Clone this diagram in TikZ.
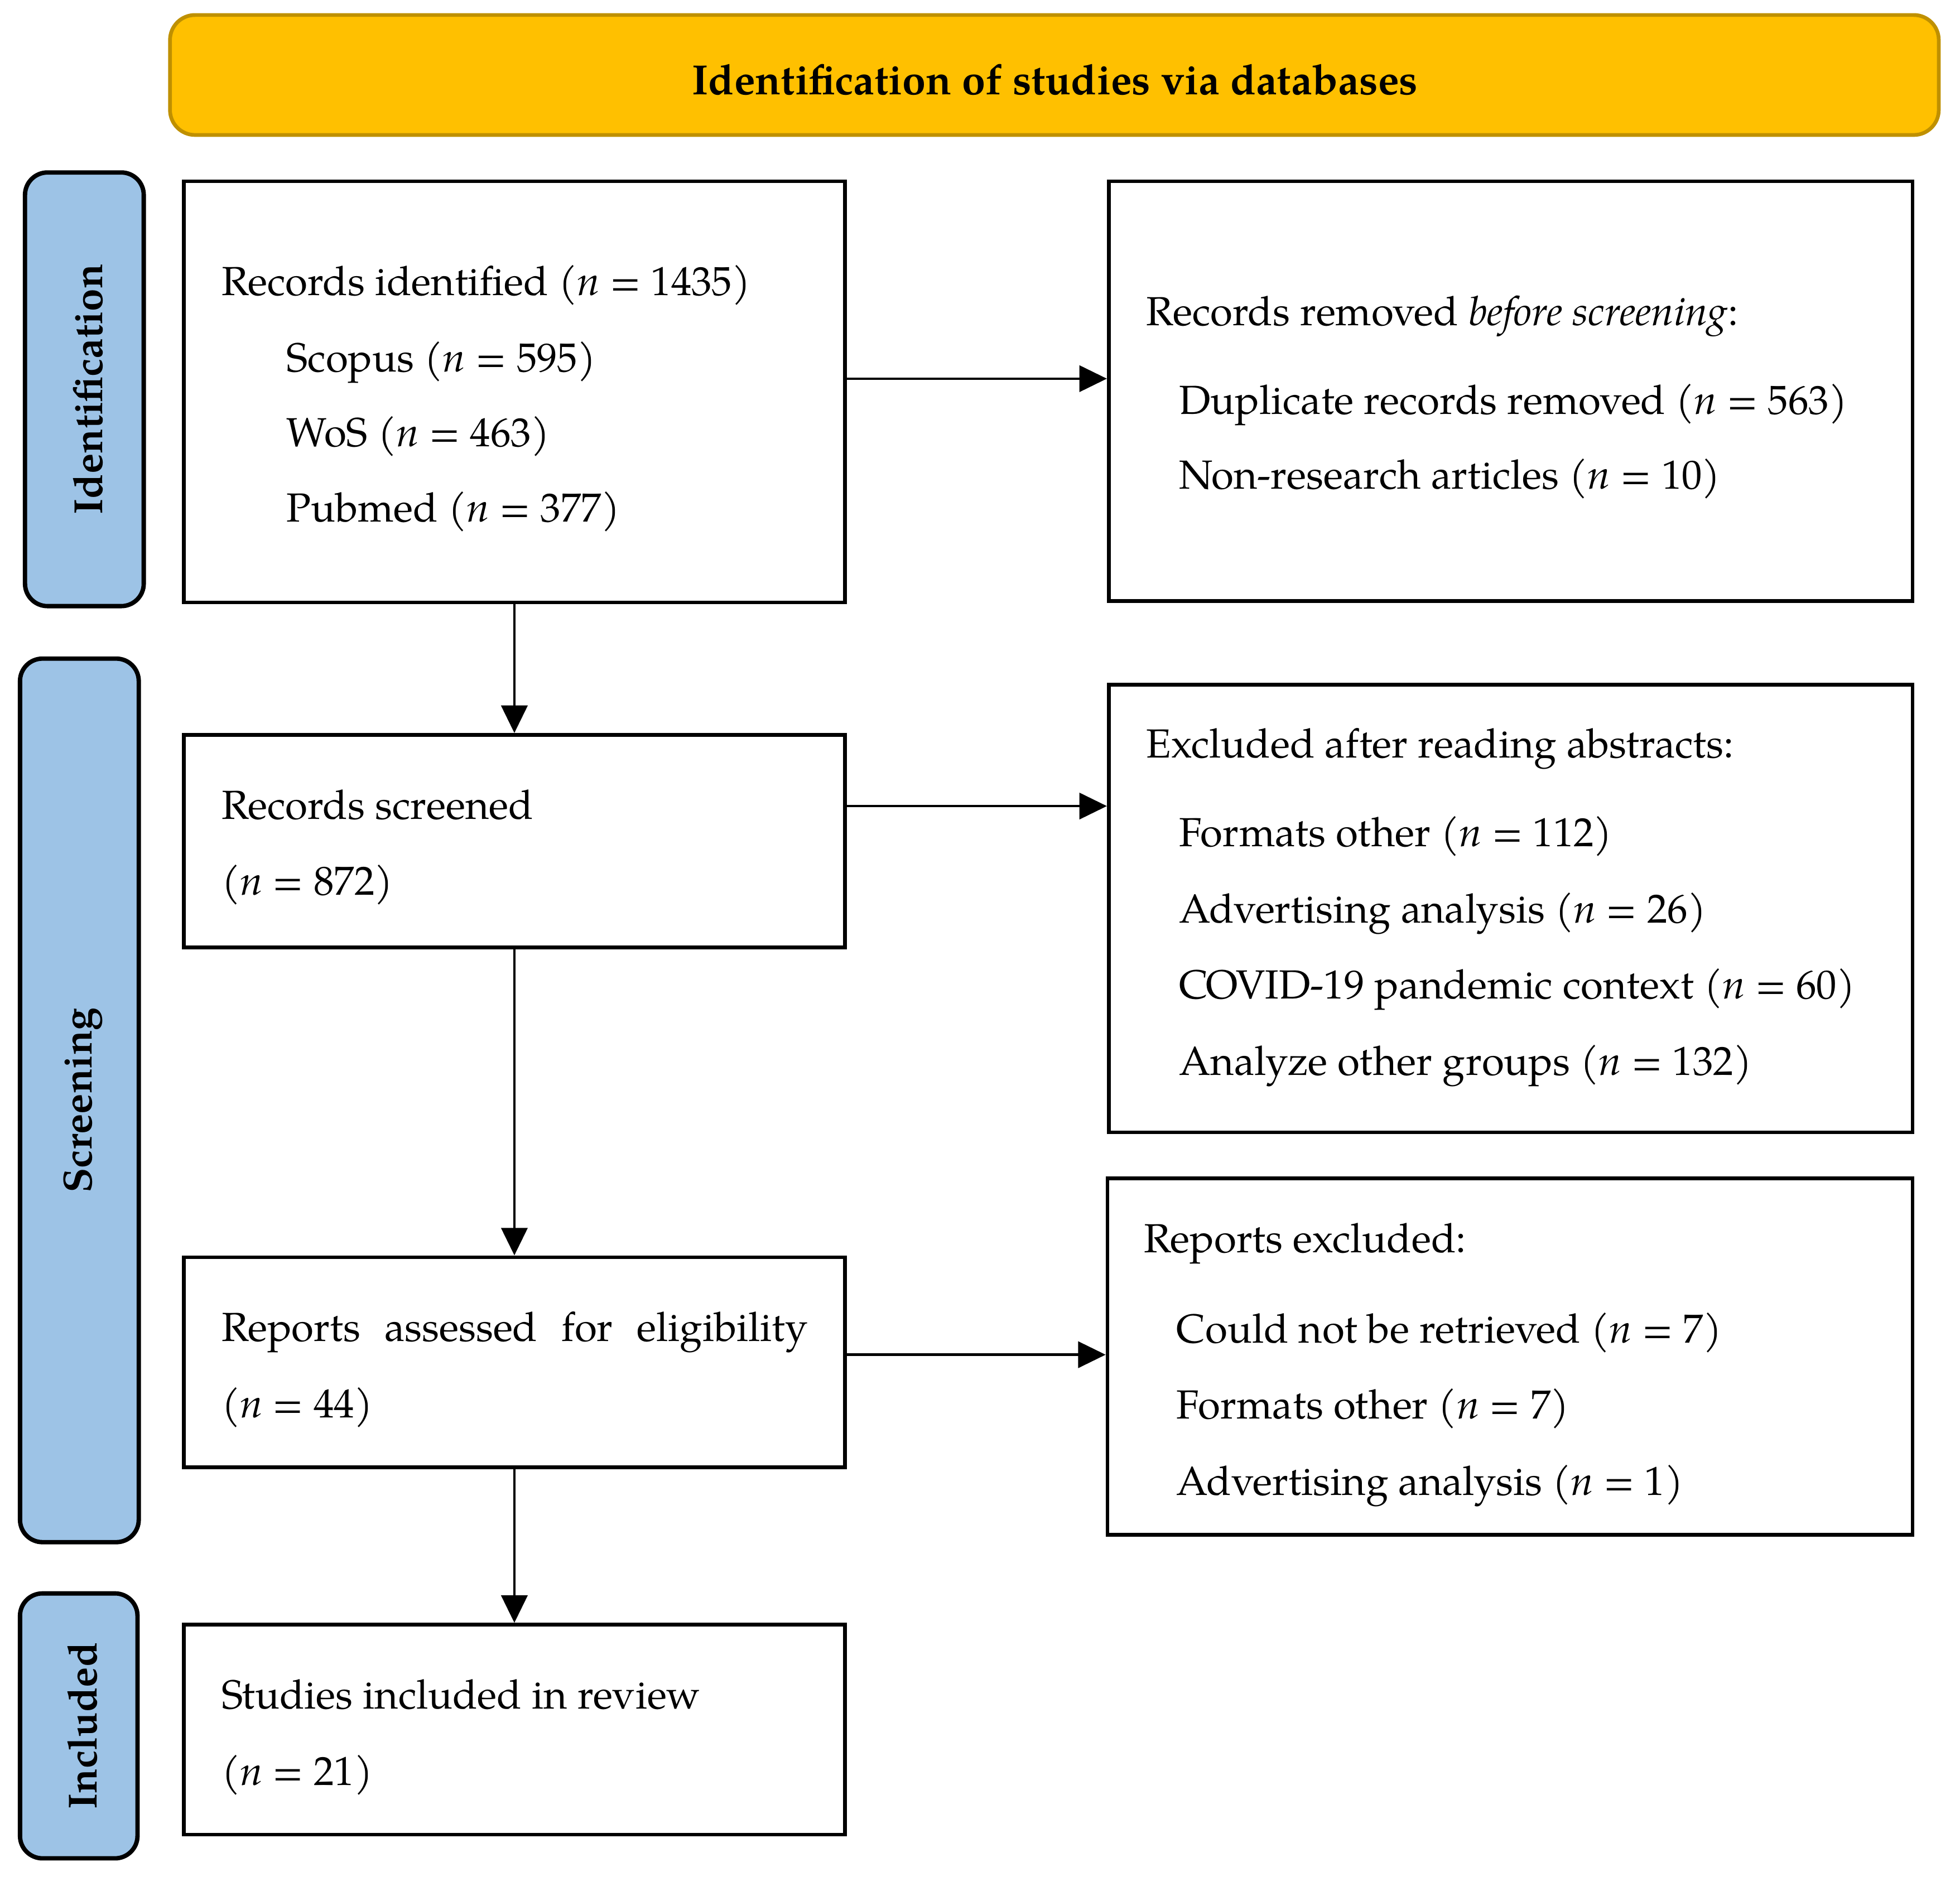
\documentclass[tikz,border=0pt]{standalone}
\usepackage{fontspec}
\setmainfont{TeX Gyre Pagella}
\usetikzlibrary{arrows.meta}
\newcommand\myfs{\fontsize{32.5}{39}\selectfont}
\newcommand\nn{\textit{n}}
\definecolor{banfill}{HTML}{FFC000}
\definecolor{banline}{HTML}{BF9000}
\definecolor{sidefill}{HTML}{9DC3E6}
\tikzset{
  box/.style={draw=black, line width=3pt, fill=white, inner sep=0pt},
  txt/.style={anchor=mid west, inner sep=0pt, font=\myfs, yshift=-8pt},
  side/.style={draw=black, line width=3.5pt, fill=sidefill, rounded corners=18pt, inner sep=0pt},
  sidetxt/.style={rotate=90, inner sep=0pt, font=\myfs\bfseries},
  arr/.style={line width=2pt, -{Triangle[length=22pt,width=21pt]}}
}
\begin{document}
\begin{tikzpicture}[x=1pt,y=-1pt]
\useasboundingbox (0,0) rectangle (1568,1501.5);
% banner
\node[draw=banline, line width=3pt, fill=banfill, rounded corners=20pt, minimum width=1415pt, minimum height=96pt, inner sep=0pt] (ban) at (843.5,60) {};
\node[font=\fontsize{33.7}{40}\selectfont\bfseries, inner sep=0pt] (bantxt) at (844,64) {Identification of studies via databases};
% side labels
\node[side, minimum width=95pt, minimum height=347pt] (s1) at (67.5,311.5) {};
\node[sidetxt] (s1t) at ([xshift=3pt]s1.center) {Identification};
\node[side, minimum width=95pt, minimum height=707pt] (s2) at (63.5,880.5) {};
\node[sidetxt] (s2t) at ([xshift=3pt]s2.center) {Screening};
\node[side, minimum width=94pt, minimum height=212pt] (s3) at (63,1381) {};
\node[sidetxt] (s3t) at ([xshift=3pt]s3.center) {Included};
% boxes
\node[box, minimum width=529pt, minimum height=337pt] (A) at (411.5,313.5) {};
\node[box, minimum width=643pt, minimum height=336pt] (B) at (1208.5,313) {};
\node[box, minimum width=529pt, minimum height=170pt] (C) at (411.5,673) {};
\node[box, minimum width=643pt, minimum height=358pt] (D) at (1208.5,727) {};
\node[box, minimum width=529pt, minimum height=168pt] (E) at (411.5,1090) {};
\node[box, minimum width=644pt, minimum height=285pt] (F) at (1208,1085.5) {};
\node[box, minimum width=529pt, minimum height=168pt] (G) at (411.5,1384) {};
% texts
\node[txt] (a1) at (177,226) {Records identified (\nn{} = 1435)};
\node[txt] (a2) at (229,287) {Scopus (\nn{} = 595)};
\node[txt] (a3) at (229,347) {WoS (\nn{} = 463)};
\node[txt] (a4) at (229,407) {Pubmed (\nn{} = 377)};
\node[txt] (b1) at (917,250) {Records removed \textit{before screening}:};
\node[txt] (b2) at (943,321) {Duplicate records removed (\nn{} = 563)};
\node[txt] (b3) at (943,381) {Non-research articles (\nn{} = 10)};
\node[txt] (c1) at (177,645) {Records screened};
\node[txt] (c2) at (177,706) {(\nn{} = 872)};
\node[txt] (d1) at (917,596) {Excluded after reading abstracts:};
\node[txt] (d2) at (943,667) {Formats other (\nn{} = 112)};
\node[txt] (d3) at (943,728) {Advertising analysis (\nn{} = 26)};
\node[txt] (d4) at (943,789) {COVID-19 pandemic context (\nn{} = 60)};
\node[txt] (d5) at (943,850) {Analyze other groups (\nn{} = 132)};
\node[txt] (e1) at (177,1063) {\makebox[469pt][s]{Reports assessed for eligibility}};
\node[txt] (e2) at (177,1124) {(\nn{} = 44)};
\node[txt] (f1) at (915,992) {Reports excluded:};
\node[txt] (f2) at (941,1064) {Could not be retrieved (\nn{} = 7)};
\node[txt] (f3) at (941,1125) {Formats other (\nn{} = 7)};
\node[txt] (f4) at (941,1186) {Advertising analysis (\nn{} = 1)};
\node[txt] (g1) at (177,1357) {Studies included in review};
\node[txt] (g2) at (177,1418) {(\nn{} = 21)};
% arrows
\coordinate (yAB) at (0,303);
\coordinate (yCD) at (0,645);
\coordinate (yEF) at (0,1084);
\draw[arr] (A.east |- yAB) -- (B.west |- yAB);
\draw[arr] (C.east |- yCD) -- (D.west |- yCD);
\draw[arr] (E.east |- yEF) -- (F.west |- yEF);
\draw[arr] (A.south) -- (C.north);
\draw[arr] (C.south) -- (E.north);
\draw[arr] (E.south) -- (G.north);
\end{tikzpicture}
\end{document}
